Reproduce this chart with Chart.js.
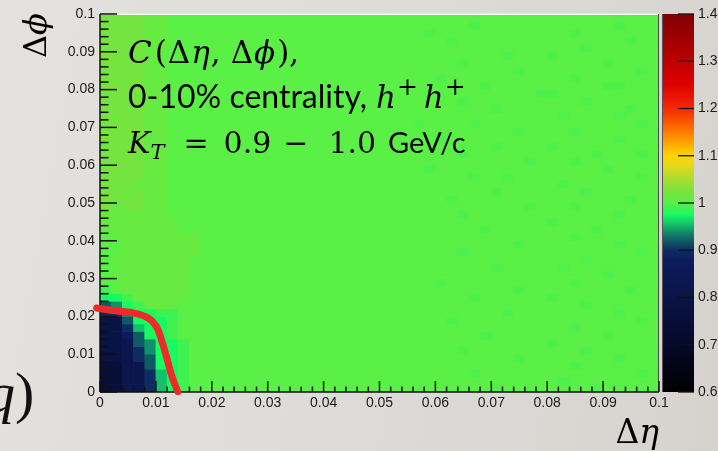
<!DOCTYPE html>
<html>
<head>
<meta charset="utf-8">
<script src="https://cdn.jsdelivr.net/npm/chart.js@4.4.1/dist/chart.umd.min.js"></script>
<style>
  html, body { margin: 0; padding: 0; }
  body {
    width: 718px; height: 451px; overflow: hidden;
    background: linear-gradient(100deg, #e4e2df 0%, #dddbd7 55%, #d6d3cf 100%);
  }
  #wrap { position: relative; width: 718px; height: 451px; }
</style>
</head>
<body>
<div id="wrap"><canvas id="corrCanvas" width="718" height="451"></canvas></div>
<script>
// Histogram binning: 50 x 50 cells over 0..0.1 in Δη and Δφ
const etaRange = [0, 0.1];
const phiRange = [0, 0.1];
const nBinsEta = 50;
const nBinsPhi = 50;

// Correlation levels used in the cell grid below
const levelKeys   = ['0', '1', '2', '3', '4', '5', '6', '7', '8', '9', ',', '.', '+', '*'];
const levelValues = [0.75, 0.79, 0.82, 0.87, 0.90, 0.92, 0.94, 0.955, 0.975, 0.99, 0.995, 1.0, 1.012, 1.022];

// C(Δη,Δφ) per cell: one string per Δφ row, top row (0.098-0.1) first,
// one character per Δη bin (spaces only group the bins by ten)
const cellRows = [
  '****++.... .......... .......... .......... ..........',
  '****++.... .......... .......... ...,...... ......,...',
  '****++.... .......... ........., .......... ..,.......',
  '****++.... .......... .......... .,........ .......,..',
  '****++.... .......... .......... .......... ...,......',
  '****++.... .......... .......... ......,... ,.........',
  '****++.... .......... .......... ..,....... .....,....',
  '****++.... .......... .......... .......,.. ........,.',
  '****++.... .......... .......... ,......... ..,.......',
  '****++.... .......... .......... ....,..... .....,,...',
  '****++.... .......... .......... ........., ,.........',
  '****++.... .......... .......... ..,....... ...,......',
  '****++.... .......... .......... .....,.... .......,..',
  '****++.... .......... .......... .......... .,....,...',
  '****++.... .......... ........,. ...,...... ........,.',
  '****++.... .......... .......... .......,.. ..,.......',
  '****++.... .......... .......... ,......... ......,...',
  '****++.... .......... .......... .....,.... ,.........',
  '****++.... .......... .......... ..,....... ....,...,.',
  '****++.... .......... .......... ........,. ..,.......',
  '****++.... .......... ........., .......... .....,....',
  '****++.... .......... .......... ...,..,... ........,.',
  '***+++.... .......... .......... .......... .,........',
  '**+*++.... .......... .......... .....,.... ...,......',
  '****++.... .......... .......... .,........ .......,..',
  '*+**++.... .......... .......... ........,. ..,.......',
  '++++++.... .......... .......... ..,....... ......,...',
  '+++++++... .......... .......... .......... ,.........',
  '+++++++... .......... .......... ....,..... ....,.....',
  '..+++++++. .......... .......... .......... ..,.......',
  '..+++++++. .......... .......... .......,.. ......,...',
  '..+++++++. .......... .......... ..,....... ........,.',
  '.+++++++.. .......... .......... .......... ...,......',
  '..++++++.. .......... .......... .....,.... .,........',
  '.+++++++.. .......... .......... .......... .....,....',
  '..++++++.. .......... .......... ,......... ..,.......',
  '9.++++++.. .......... .......... .......,.. .......,..',
  '889+++++.. .......... .......... ...,...... ,.........',
  '5689+++... .......... .......... .......... ...,......',
  '4468899... .......... .......... ......,... ......,...',
  '1158889... .......... .......... .,........ ........,.',
  '1147889... .......... .......... .......... ..,.......',
  '1135889... .......... .......... ....,..... .....,....',
  '11256889.. .......... .......... .......... ,.........',
  '11246889.. .......... .......... ..,....... ...,......',
  '11245889.. .......... .......... .......,.. ......,...',
  '00225889.. .......... .......... .......... ..,.......',
  '00224789.. .......... .......... ...,...... ........,.',
  '00224789.. .......... .......... .......... .,........',
  '00224789.. .......... .......... .....,.... ....,.....'
];

// Hand-drawn boundary of the suppressed region
const curveEta = [-0.0006, 0.0027, 0.0063, 0.0087, 0.0101, 0.0110, 0.0119, 0.0129, 0.0139];
const curvePhi = [0.0222, 0.0215, 0.0208, 0.0195, 0.0173, 0.0138, 0.0093, 0.0040, 0.0001];

// Colour scale
const zRange = [0.6, 1.4];
const paletteValues = [0.60, 0.70, 0.80, 0.88, 0.90, 0.92, 0.94, 0.96, 0.975, 0.99, 1.00,
                       1.02, 1.05, 1.08, 1.10, 1.13, 1.16, 1.20, 1.25, 1.32, 1.40];
const paletteColors = ['#000000', '#05082a', '#0a1448', '#0c1c5c', '#0e2c62', '#0f5a64', '#12906a',
                       '#14d068', '#18fa62', '#40f250', '#5af046', '#70e640', '#a8dc30', '#e6d81c',
                       '#ffd400', '#ffa000', '#ff6a00', '#f22a00', '#e00000', '#b00000', '#800000'];

function hexToRgb(h) {
  return [parseInt(h.slice(1, 3), 16), parseInt(h.slice(3, 5), 16), parseInt(h.slice(5, 7), 16)];
}

// Linear interpolation in the palette
function paletteColor(v) {
  if (v <= paletteValues[0]) return paletteColors[0];
  for (let k = 1; k < paletteValues.length; k++) {
    if (v <= paletteValues[k]) {
      const f = (v - paletteValues[k - 1]) / (paletteValues[k] - paletteValues[k - 1]);
      const a = hexToRgb(paletteColors[k - 1]);
      const b = hexToRgb(paletteColors[k]);
      const c = a.map((ch, n) => Math.round(ch + (b[n] - ch) * f));
      return 'rgb(' + c.join(',') + ')';
    }
  }
  return paletteColors[paletteColors.length - 1];
}

const binW = (etaRange[1] - etaRange[0]) / nBinsEta;
const binH = (phiRange[1] - phiRange[0]) / nBinsPhi;

// One floating-bar dataset per Δφ row
const rowDatasets = cellRows.map((row, r) => {
  const cells = row.replace(/ /g, '').split('');
  const j = nBinsPhi - 1 - r;
  return {
    type: 'bar',
    order: 1,
    data: cells.map((c, i) => ({
      x: etaRange[0] + (i + 0.5) * binW,
      y: [phiRange[0] + j * binH, phiRange[0] + (j + 1) * binH]
    })),
    backgroundColor: cells.map(c => paletteColor(levelValues[levelKeys.indexOf(c)])),
    borderWidth: 0,
    barPercentage: 1,
    categoryPercentage: 1,
    grouped: false
  };
});

const curveDataset = {
  type: 'line',
  order: 0,
  data: curveEta.map((x, i) => ({ x: x, y: curvePhi[i] })),
  borderColor: '#ee2a2a',
  borderWidth: 7,
  borderCapStyle: 'round',
  borderJoinStyle: 'round',
  pointRadius: 0,
  tension: 0.4,
  fill: false,
  clip: false
};
const curveIndex = 0;

const tickFont = { family: '"Liberation Sans", Arial, sans-serif', size: 14 };
const serif = '"DejaVu Serif", "Liberation Serif", serif';
const sans = 'Lato, "Open Sans", sans-serif';

function fmt(v, d) { return String(Number(v.toFixed(d))); }

// Draw a line of text made of runs with different fonts
function drawRuns(ctx, x, y, runs) {
  runs.forEach(r => {
    ctx.font = r.font;
    ctx.fillText(r.text, x, y + (r.dy || 0));
    x += ctx.measureText(r.text).width + (r.gap || 0);
  });
  return x;
}
function runsWidth(ctx, runs) {
  let w = 0;
  runs.forEach(r => { ctx.font = r.font; w += ctx.measureText(r.text).width + (r.gap || 0); });
  return w;
}

// Frame with inward ticks (major + 4 minor) over the cells
function drawFrame(chart) {
  const ctx = chart.ctx;
  const a = chart.chartArea;
  const xs = chart.scales.x, ys = chart.scales.y;
  const w = 1.5;
  ctx.save();
  ctx.fillStyle = '#f6f6f4';
  ctx.fillRect(a.left, a.top - 0.5, a.right - a.left, 1.5);
  ctx.fillStyle = '#4a4a4a';
  ctx.fillRect(a.right - 1, a.top, 1, a.bottom - a.top);

  ctx.fillStyle = '#111111';
  ctx.fillRect(a.left - w / 2, a.top, w, a.bottom - a.top);
  ctx.fillRect(a.left, a.bottom - w / 2, a.right - a.left, w);

  const xt = xs.ticks.map(t => t.value);
  for (let k = 0; k < xt.length; k++) {
    const px = xs.getPixelForValue(xt[k]);
    ctx.fillRect(px - w / 2, a.bottom - 11, w, 11);
    if (k < xt.length - 1) {
      const step = (xt[k + 1] - xt[k]) / 5;
      for (let m = 1; m < 5; m++) {
        const q = xs.getPixelForValue(xt[k] + m * step);
        ctx.fillRect(q - w / 2, a.bottom - 5.5, w, 5.5);
      }
    }
  }
  const yt = ys.ticks.map(t => t.value);
  for (let k = 0; k < yt.length; k++) {
    const py = ys.getPixelForValue(yt[k]);
    ctx.fillRect(a.left, py - w / 2, 17, w);
    if (k < yt.length - 1) {
      const step = (yt[k + 1] - yt[k]) / 5;
      for (let m = 1; m < 5; m++) {
        const q = ys.getPixelForValue(yt[k] + m * step);
        ctx.fillRect(a.left, q - w / 2, 8.5, w);
      }
    }
  }
  ctx.restore();
}

// Colour bar on the z scale
function drawColorBar(chart) {
  const ctx = chart.ctx;
  const z = chart.scales.z;
  const x0 = z.left + 3, x1 = z.left + 35;
  const yTop = z.getPixelForValue(zRange[1]);
  const yBot = z.getPixelForValue(zRange[0]);
  const grad = ctx.createLinearGradient(0, yBot, 0, yTop);
  paletteValues.forEach((v, k) => {
    grad.addColorStop((v - zRange[0]) / (zRange[1] - zRange[0]), paletteColors[k]);
  });
  ctx.save();
  ctx.fillStyle = grad;
  ctx.fillRect(x0, yTop, x1 - x0, yBot - yTop);
  ctx.fillStyle = '#555';
  ctx.fillRect(x0, yTop, 1, yBot - yTop);
  ctx.fillStyle = '#111';
  z.ticks.forEach(t => {
    const py = z.getPixelForValue(t.value);
    ctx.fillRect(x1 - 16, py - 0.65, 16, 1.3);
  });
  ctx.restore();
}

// Cells first; frame, colour bar, boundary curve and texts on top
const overlay = {
  id: 'overlay',
  beforeDatasetDraw(chart, args) {
    if (args.index === curveIndex) return false;
  },
  afterDraw(chart) {
    drawFrame(chart);
    drawColorBar(chart);
    chart.getDatasetMeta(curveIndex).controller.draw();
    drawTexts(chart);
  }
};

// Axis titles and the plot annotation
function drawTexts(chart) {
  const ctx = chart.ctx;
  const a = chart.chartArea;
  ctx.save();
  ctx.fillStyle = '#000';
  ctx.textBaseline = 'alphabetic';
  ctx.textAlign = 'left';

  const mR = '30px ' + serif, mI = 'italic 30px ' + serif;
  const tx = a.left + 28;
  drawRuns(ctx, tx, 63, [
    { text: 'C', font: 'italic 31px ' + serif, gap: 3 }, { text: '(', font: '31px ' + serif, gap: 1 },
    { text: 'Δ', font: '31px ' + serif, gap: 1 }, { text: 'η', font: 'italic 31px ' + serif, gap: 1 },
    { text: ',', font: '31px ' + serif, gap: 10 }, { text: 'Δ', font: '31px ' + serif, gap: 1 },
    { text: 'ϕ', font: 'italic 31px ' + serif, gap: 2 }, { text: '),', font: '31px ' + serif }
  ]);
  drawRuns(ctx, tx, 108, [
    { text: '0-10% centrality,', font: '32px ' + sans, gap: 9 },
    { text: 'h', font: 'italic 31px ' + serif, gap: 1 }, { text: '+', font: '25px ' + serif, dy: -13, gap: 6 },
    { text: 'h', font: 'italic 31px ' + serif, gap: 1 }, { text: '+', font: '25px ' + serif, dy: -13 }
  ]);
  drawRuns(ctx, tx, 153, [
    { text: 'K', font: mI }, { text: 'T', font: 'italic 21px ' + serif, dy: 6, gap: 19 },
    { text: '=', font: mR, gap: 15 }, { text: '0.9', font: mR, gap: 12 },
    { text: '−', font: mR, gap: 20 }, { text: '1.0', font: mR, gap: 12 },
    { text: 'GeV/c', font: '29px ' + sans }
  ]);

  // Δη below the x axis, right aligned
  const etaRuns = [{ text: 'Δ', font: '33px ' + serif }, { text: 'η', font: 'italic 33px ' + serif }];
  drawRuns(ctx, a.right - runsWidth(ctx, etaRuns), 443, etaRuns);

  // Δϕ left of the y axis, rotated
  ctx.translate(46, 58);
  ctx.rotate(-Math.PI / 2);
  drawRuns(ctx, 0, 0, [{ text: 'Δ', font: '32px ' + serif }, { text: 'ϕ', font: 'italic 32px ' + serif }]);
  ctx.restore();

  // slide text running into the left edge
  ctx.save();
  ctx.fillStyle = '#111';
  drawRuns(ctx, -14, 412, [{ text: 'q', font: 'italic 58px "Liberation Serif", serif' },
                           { text: ')', font: '58px "Liberation Serif", serif' }]);
  ctx.restore();
}

const ctx = document.getElementById('corrCanvas').getContext('2d');
new Chart(ctx, {
  type: 'bar',
  data: { datasets: [curveDataset].concat(rowDatasets) },
  options: {
    responsive: false,
    animation: false,
    events: [],
    layout: { padding: { top: 14, left: 0, right: 0, bottom: 0 } },
    plugins: { legend: { display: false }, tooltip: { enabled: false } },
    scales: {
      x: {
        type: 'linear', min: etaRange[0], max: etaRange[1], offset: false,
        grid: { display: false, drawTicks: false }, border: { display: false },
        ticks: { stepSize: 0.01, padding: 3, color: '#1a1a1a', font: tickFont,
                 maxRotation: 0, autoSkip: false, callback: v => fmt(v, 2) },
        afterFit: s => { s.height = 59; }
      },
      y: {
        type: 'linear', min: phiRange[0], max: phiRange[1],
        grid: { display: false, drawTicks: false }, border: { display: false },
        ticks: { stepSize: 0.01, padding: 5, color: '#1a1a1a', font: tickFont,
                 autoSkip: false, callback: v => fmt(v, 2) },
        afterFit: s => { s.width = 100; }
      },
      z: {
        axis: 'y', type: 'linear', position: 'right', min: zRange[0], max: zRange[1],
        grid: { display: false, drawTicks: true, tickLength: 36 }, border: { display: false },
        ticks: { stepSize: 0.1, padding: 3, color: '#1a1a1a', font: tickFont,
                 autoSkip: false, callback: v => fmt(v, 1) },
        afterFit: s => { s.width = 59; }
      }
    }
  },
  plugins: [overlay]
});
</script>
</body>
</html>
